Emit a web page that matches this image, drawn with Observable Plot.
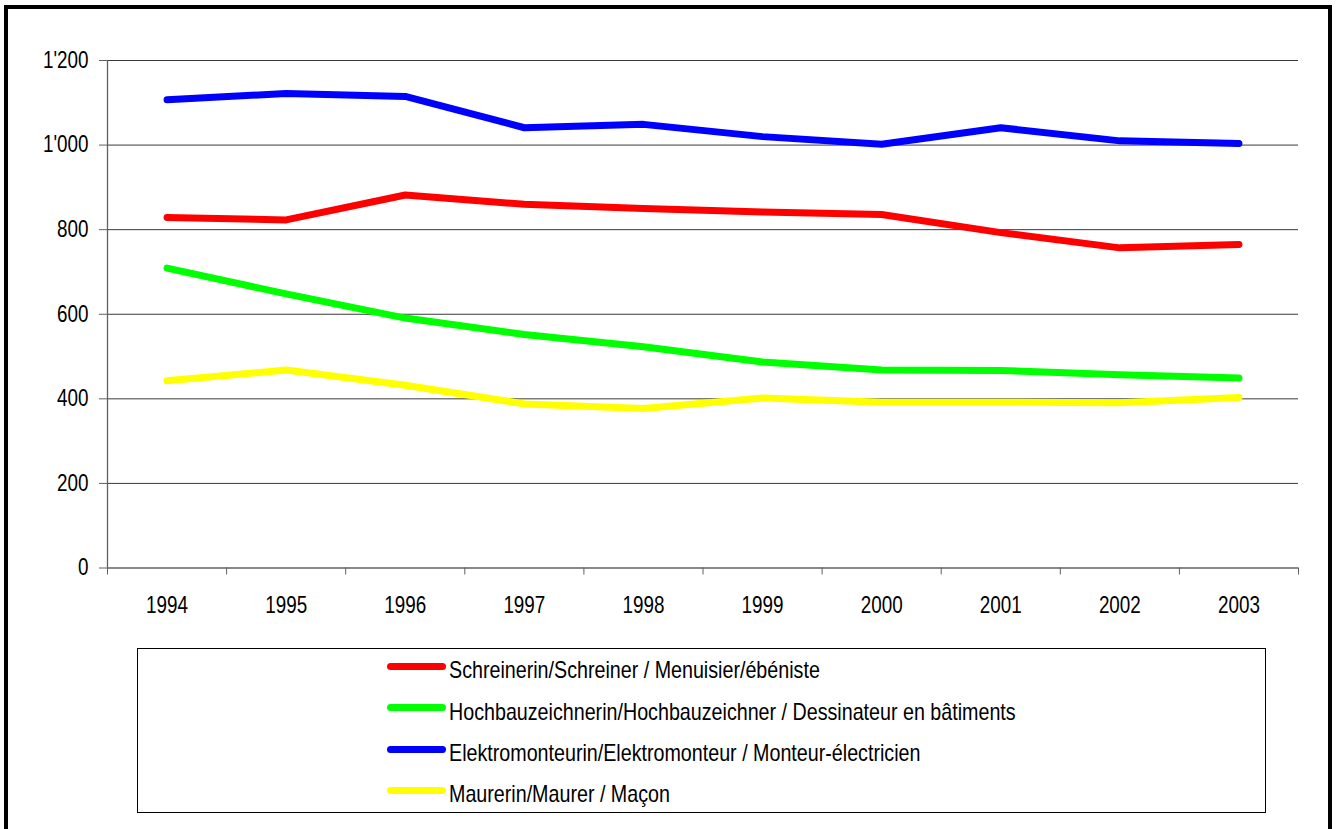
<!DOCTYPE html>
<html>
<head>
<meta charset="utf-8">
<script src="https://cdn.jsdelivr.net/npm/d3@7"></script>
<script src="https://cdn.jsdelivr.net/npm/@observablehq/plot@0.6"></script>
<style>
  html, body { margin: 0; padding: 0; background: #fff; overflow: hidden; }
  body { width: 1338px; height: 829px; position: relative;
         font-family: "Liberation Sans", Arial, sans-serif; }
  #frame { position: absolute; left: 4px; top: 5px; width: 1320px; height: 900px;
           border: 4px solid #000; box-sizing: content-box; }
  #chart { position: absolute; left: 0; top: 0; }
  #legend { position: absolute; left: 137px; top: 648px; width: 1129px; height: 165px;
            border: 1.5px solid #000; box-sizing: border-box; background: #fff; }
  .lg-line { position: absolute; width: 59px; height: 7px; border-radius: 3.5px; }
  .lg-text { position: absolute; font-size: 24px; line-height: 24px; white-space: nowrap; color: #000;
             transform: scaleX(0.82); transform-origin: 0 0; }
</style>
</head>
<body>
<div id="frame"></div>
<div id="chart"></div>
<div id="legend"></div>
<script>
// ---- data ----
const years = [1994, 1995, 1996, 1997, 1998, 1999, 2000, 2001, 2002, 2003];
const seriesNames = [
  "Schreinerin/Schreiner / Menuisier/ébéniste",
  "Hochbauzeichnerin/Hochbauzeichner / Dessinateur en bâtiments",
  "Elektromonteurin/Elektromonteur / Monteur-électricien",
  "Maurerin/Maurer / Maçon"
];
const seriesColors = ["#ff0000", "#00ff00", "#0000ff", "#ffff00"];
const schreiner = [829, 823, 882, 860, 850, 842, 836, 793, 757, 765];
const hochbau   = [709, 648, 591, 552, 523, 487, 468, 467, 457, 449];
const elektro   = [1107, 1122, 1115, 1041, 1049, 1020, 1002, 1041, 1010, 1004];
const maurer    = [443, 468, 432, 388, 377, 402, 392, 392, 391, 403];
const yTicks = [0, 200, 400, 600, 800, 1000, 1200];

const seriesValues = [schreiner, hochbau, elektro, maurer];
const data = [];
seriesNames.forEach((name, i) => {
  years.forEach((yr, j) => data.push({series: name, year: yr, value: seriesValues[i][j]}));
});
const boundaries = years.map(y => y - 0.5).concat([years[years.length - 1] + 0.5]);
const fmt = d3.formatLocale({decimal: ".", thousands: "'", grouping: [3], currency: ["", ""]}).format(",");

const chart = Plot.plot({
  width: 1338,
  height: 630,
  marginLeft: 107,
  marginRight: 40,
  marginTop: 60,
  marginBottom: 62.5,
  style: {fontFamily: '"Liberation Sans", Arial, sans-serif',
          fontSize: "23px", background: "transparent", color: "#000", overflow: "visible"},
  x: {domain: [boundaries[0], boundaries[boundaries.length - 1]]},
  y: {domain: [0, 1200]},
  color: {domain: seriesNames, range: seriesColors},
  marks: [
    Plot.gridY(yTicks.filter(d => d > 0), {stroke: "#3a3a3a", strokeOpacity: 1, strokeWidth: 1}),
    Plot.ruleX([boundaries[0]], {stroke: "#606060", strokeWidth: 1.3}),
    Plot.ruleY([0], {stroke: "#606060", strokeWidth: 1.3}),
    Plot.axisY({ticks: yTicks, tickSize: 8, tickPadding: 11, tickFormat: fmt, stroke: "#606060", label: null}),
    Plot.axisX({ticks: boundaries, tickSize: 7, tickFormat: () => "", stroke: "#606060", label: null}),
    Plot.axisX({ticks: years, tickSize: 0, tickPadding: 29, tickFormat: d => String(d), label: null}),
    Plot.line(data, {x: "year", y: "value", z: "series", stroke: "series",
                     strokeWidth: 7, strokeLinecap: "round", strokeLinejoin: "round"})
  ]
});
// narrow the glyphs (Arial Narrow look) around each label's own anchor
d3.select(chart).selectAll("text").each(function() {
  const t = this.getAttribute("transform") || "";
  this.setAttribute("transform", (t + " scale(0.82,1)").trim());
});
document.getElementById("chart").appendChild(chart);

// ---- legend ----
const legend = document.getElementById("legend");
const boxLeft = 137, boxTop = 648;
seriesNames.forEach((name, i) => {
  const lineCenter = 667 + i * 41.3;
  const baseline = 679 + i * 41.3;
  const ln = document.createElement("div");
  ln.className = "lg-line";
  ln.style.background = seriesColors[i];
  ln.style.left = (387 - boxLeft - 1.5) + "px";
  ln.style.top = (lineCenter - 3.5 - boxTop - 1.5) + "px";
  legend.appendChild(ln);
  const tx = document.createElement("div");
  tx.className = "lg-text";
  tx.textContent = name;
  tx.style.left = (449 - boxLeft - 1.5) + "px";
  tx.style.top = (baseline - 20.3 - boxTop - 1.5) + "px";
  legend.appendChild(tx);
});
</script>
</body>
</html>
